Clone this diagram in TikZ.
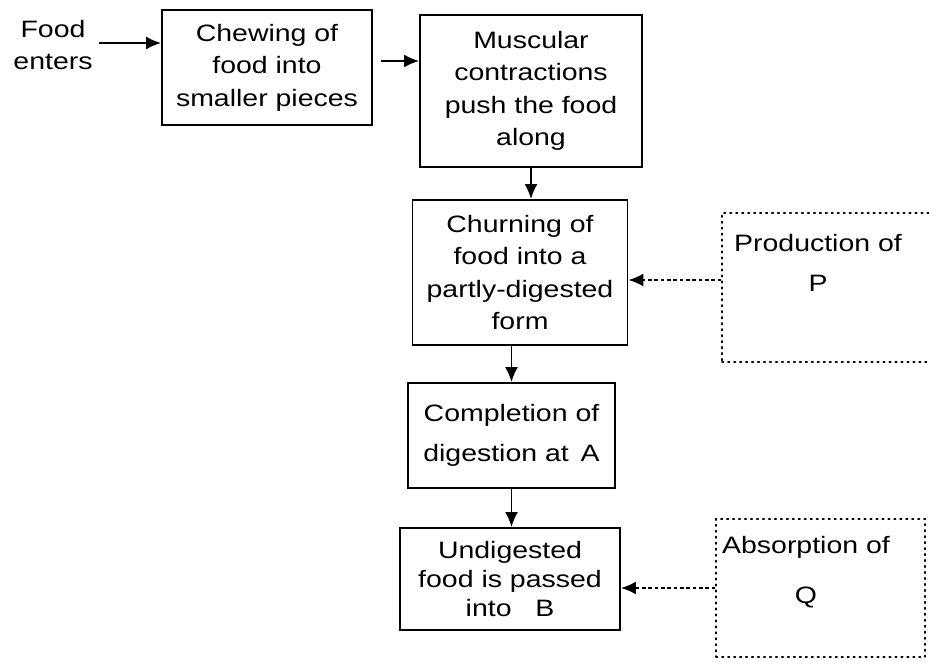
\documentclass[tikz,border=0pt]{standalone}
\usepackage{fontspec}
\setmainfont{Liberation Sans}[FakeStretch=1.2]
\usetikzlibrary{positioning,arrows.meta}

\begin{document}
\begin{tikzpicture}[x=0.02cm, y=-0.02cm, font=\fontsize{13.5}{18.5}\selectfont,
                box/.style ={draw, line width=1.1pt, align=center, inner sep=2pt},
                dotbox/.style ={draw, line width=1pt, dash pattern=on 0.8pt off 2.6pt, line cap=round},
                flow/.style ={-{Latex[length=3mm,width=2.6mm]}, line width=1pt},
                feed/.style ={flow, dash pattern=on 2pt off 1.6pt}]

            \useasboundingbox (0,0) rectangle (929,671);
            \clip (0,0) rectangle (929,671);

            %\node [style] (name) at (x,y) {};  -- coordinates in pixels of the scan
            \node[align=center] (food) at (53,45) {Food\\enters};
            \node[box, minimum width=4.2cm, minimum height=2.3cm] (chew) at (267,67.5) {Chewing of\\food into\\smaller pieces};
            \node[box, minimum width=4.44cm, minimum height=3.04cm] (musc) at (531,91) {Muscular\\contractions\\push the food\\along};
            \node[box, minimum width=4.3cm, minimum height=2.9cm] (churn) at (520,272.5) {Churning of\\food into a\\partly-digested\\form};
            \node[box, minimum width=4.14cm, minimum height=2.1cm] (compl) at (511.5,435.5) {Completion of\\[4pt]digestion at\enspace A};
            \node[box, minimum width=4.4cm, minimum height=2.04cm] (undig) at (510,579) {Undigested\\[-2pt]food is passed\\[-2pt]into\quad B};

            \node[dotbox, minimum width=4.4cm, minimum height=2.98cm] (prod) at (832,287.5) {};
            \node[align=center] (prodtxt) at (818,263) {Production of\\[4pt]P};
            \node[dotbox, minimum width=4.18cm, minimum height=2.76cm] (absorb) at (820.5,588) {};
            \node[align=center] (absorbtxt) at (806,572) {Absorption of\\[10pt]Q};

            \path ([yshift=0.04cm]food.east) edge[flow] ([yshift=0.04cm]food.east -| chew.west);
            \path ([yshift=0.13cm]chew.east) edge[flow, shorten <=0.16cm] ([yshift=0.13cm]chew.east -| musc.west);
            \path (musc.south) edge[flow] (musc.south |- churn.north);
            \path (churn.south -| compl.north) edge[flow] (compl.north);
            \path (compl.south) edge[flow] (compl.south |- undig.north);
            %dotted feeds from the side boxes
            \path ([yshift=0.15cm]prod.west) edge[feed] ([yshift=0.15cm]prod.west -| churn.east);
            \path (absorb.west) edge[feed] (absorb.west -| undig.east);
    \end{tikzpicture}
\end{document}
